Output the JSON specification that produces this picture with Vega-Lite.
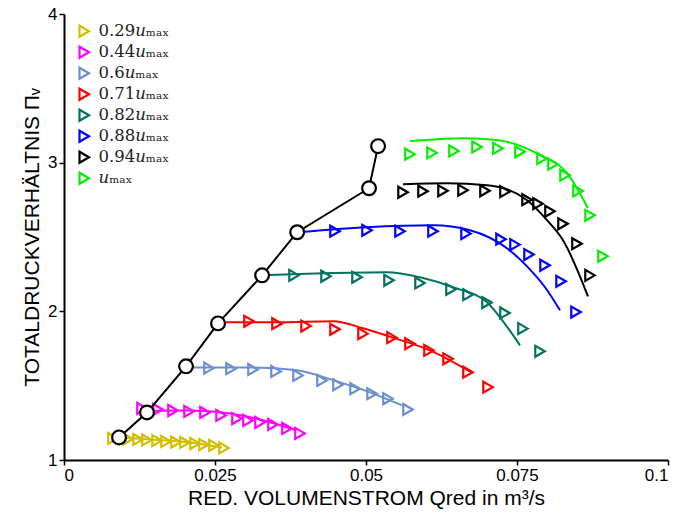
{
  "$schema": "https://vega.github.io/schema/vega-lite/v6.json",
  "width": 604,
  "height": 446,
  "autosize": {"type": "none"},
  "padding": {"left": 64, "top": 14, "right": 12, "bottom": 56},
  "background": "white",
  "config": {
    "view": {"stroke": null},
    "axis": {
      "grid": false,
      "domainColor": "black",
      "domainWidth": 2,
      "tickColor": "black",
      "tickWidth": 1.5,
      "tickSize": 5,
      "labelFont": "Liberation Sans",
      "labelFontSize": 17,
      "labelColor": "black",
      "titleFont": "Liberation Sans",
      "titleFontSize": 21,
      "titleFontWeight": "normal",
      "titleColor": "black"
    },
    "legend": {
      "orient": "none",
      "legendX": 12,
      "legendY": 9,
      "padding": 0,
      "labelFont": "DejaVu Serif",
      "labelFontSize": 16.5,
      "labelColor": "#222",
      "labelOffset": 6,
      "rowPadding": 0,
      "symbolType": "triangle-right",
      "symbolSize": 120,
      "symbolStrokeWidth": 2.2,
      "symbolFillColor": "transparent"
    }
  },
  "datasets": {
    "pts": [
      {"s": "0.29𝑢ₘₐₓ", "q": 0.00811, "p": 1.145},
      {"s": "0.29𝑢ₘₐₓ", "q": 0.0106, "p": 1.141},
      {"s": "0.29𝑢ₘₐₓ", "q": 0.01225, "p": 1.138},
      {"s": "0.29𝑢ₘₐₓ", "q": 0.01374, "p": 1.135},
      {"s": "0.29𝑢ₘₐₓ", "q": 0.0154, "p": 1.131},
      {"s": "0.29𝑢ₘₐₓ", "q": 0.01689, "p": 1.125},
      {"s": "0.29𝑢ₘₐₓ", "q": 0.01854, "p": 1.121},
      {"s": "0.29𝑢ₘₐₓ", "q": 0.02003, "p": 1.118},
      {"s": "0.29𝑢ₘₐₓ", "q": 0.02169, "p": 1.111},
      {"s": "0.29𝑢ₘₐₓ", "q": 0.02318, "p": 1.104},
      {"s": "0.29𝑢ₘₐₓ", "q": 0.02483, "p": 1.098},
      {"s": "0.29𝑢ₘₐₓ", "q": 0.02649, "p": 1.081},
      {"s": "0.44𝑢ₘₐₓ", "q": 0.01291, "p": 1.347},
      {"s": "0.44𝑢ₘₐₓ", "q": 0.01556, "p": 1.34},
      {"s": "0.44𝑢ₘₐₓ", "q": 0.01805, "p": 1.333},
      {"s": "0.44𝑢ₘₐₓ", "q": 0.0207, "p": 1.327},
      {"s": "0.44𝑢ₘₐₓ", "q": 0.02334, "p": 1.32},
      {"s": "0.44𝑢ₘₐₓ", "q": 0.026, "p": 1.3},
      {"s": "0.44𝑢ₘₐₓ", "q": 0.02864, "p": 1.279},
      {"s": "0.44𝑢ₘₐₓ", "q": 0.03046, "p": 1.266},
      {"s": "0.44𝑢ₘₐₓ", "q": 0.03245, "p": 1.253},
      {"s": "0.44𝑢ₘₐₓ", "q": 0.0346, "p": 1.239},
      {"s": "0.44𝑢ₘₐₓ", "q": 0.03692, "p": 1.212},
      {"s": "0.44𝑢ₘₐₓ", "q": 0.03907, "p": 1.179},
      {"s": "0.6𝑢ₘₐₓ", "q": 0.024, "p": 1.618},
      {"s": "0.6𝑢ₘₐₓ", "q": 0.02765, "p": 1.614},
      {"s": "0.6𝑢ₘₐₓ", "q": 0.03129, "p": 1.609},
      {"s": "0.6𝑢ₘₐₓ", "q": 0.0351, "p": 1.596},
      {"s": "0.6𝑢ₘₐₓ", "q": 0.03874, "p": 1.569},
      {"s": "0.6𝑢ₘₐₓ", "q": 0.04272, "p": 1.535},
      {"s": "0.6𝑢ₘₐₓ", "q": 0.04536, "p": 1.506},
      {"s": "0.6𝑢ₘₐₓ", "q": 0.04818, "p": 1.48},
      {"s": "0.6𝑢ₘₐₓ", "q": 0.051, "p": 1.446},
      {"s": "0.6𝑢ₘₐₓ", "q": 0.05364, "p": 1.412},
      {"s": "0.6𝑢ₘₐₓ", "q": 0.05695, "p": 1.34},
      {"s": "0.71𝑢ₘₐₓ", "q": 0.03063, "p": 1.933},
      {"s": "0.71𝑢ₘₐₓ", "q": 0.03526, "p": 1.917},
      {"s": "0.71𝑢ₘₐₓ", "q": 0.04007, "p": 1.901},
      {"s": "0.71𝑢ₘₐₓ", "q": 0.04487, "p": 1.879},
      {"s": "0.71𝑢ₘₐₓ", "q": 0.0495, "p": 1.85},
      {"s": "0.71𝑢ₘₐₓ", "q": 0.0543, "p": 1.823},
      {"s": "0.71𝑢ₘₐₓ", "q": 0.05728, "p": 1.782},
      {"s": "0.71𝑢ₘₐₓ", "q": 0.06043, "p": 1.737},
      {"s": "0.71𝑢ₘₐₓ", "q": 0.06358, "p": 1.681},
      {"s": "0.71𝑢ₘₐₓ", "q": 0.06689, "p": 1.591},
      {"s": "0.71𝑢ₘₐₓ", "q": 0.0702, "p": 1.49},
      {"s": "0.82𝑢ₘₐₓ", "q": 0.03808, "p": 2.242},
      {"s": "0.82𝑢ₘₐₓ", "q": 0.04338, "p": 2.236},
      {"s": "0.82𝑢ₘₐₓ", "q": 0.04851, "p": 2.229},
      {"s": "0.82𝑢ₘₐₓ", "q": 0.05381, "p": 2.209},
      {"s": "0.82𝑢ₘₐₓ", "q": 0.05894, "p": 2.191},
      {"s": "0.82𝑢ₘₐₓ", "q": 0.06407, "p": 2.148},
      {"s": "0.82𝑢ₘₐₓ", "q": 0.06689, "p": 2.112},
      {"s": "0.82𝑢ₘₐₓ", "q": 0.07003, "p": 2.059},
      {"s": "0.82𝑢ₘₐₓ", "q": 0.07301, "p": 1.989},
      {"s": "0.82𝑢ₘₐₓ", "q": 0.07599, "p": 1.884},
      {"s": "0.82𝑢ₘₐₓ", "q": 0.07881, "p": 1.731},
      {"s": "0.88𝑢ₘₐₓ", "q": 0.04487, "p": 2.539},
      {"s": "0.88𝑢ₘₐₓ", "q": 0.05017, "p": 2.545},
      {"s": "0.88𝑢ₘₐₓ", "q": 0.05563, "p": 2.539},
      {"s": "0.88𝑢ₘₐₓ", "q": 0.06109, "p": 2.539},
      {"s": "0.88𝑢ₘₐₓ", "q": 0.06656, "p": 2.523},
      {"s": "0.88𝑢ₘₐₓ", "q": 0.07235, "p": 2.485},
      {"s": "0.88𝑢ₘₐₓ", "q": 0.07467, "p": 2.449},
      {"s": "0.88𝑢ₘₐₓ", "q": 0.07699, "p": 2.382},
      {"s": "0.88𝑢ₘₐₓ", "q": 0.07964, "p": 2.31},
      {"s": "0.88𝑢ₘₐₓ", "q": 0.08229, "p": 2.202},
      {"s": "0.88𝑢ₘₐₓ", "q": 0.08477, "p": 1.995},
      {"s": "0.94𝑢ₘₐₓ", "q": 0.05613, "p": 2.801},
      {"s": "0.94𝑢ₘₐₓ", "q": 0.05944, "p": 2.808},
      {"s": "0.94𝑢ₘₐₓ", "q": 0.06275, "p": 2.811},
      {"s": "0.94𝑢ₘₐₓ", "q": 0.06606, "p": 2.815},
      {"s": "0.94𝑢ₘₐₓ", "q": 0.0697, "p": 2.811},
      {"s": "0.94𝑢ₘₐₓ", "q": 0.07301, "p": 2.805},
      {"s": "0.94𝑢ₘₐₓ", "q": 0.07666, "p": 2.751},
      {"s": "0.94𝑢ₘₐₓ", "q": 0.07848, "p": 2.724},
      {"s": "0.94𝑢ₘₐₓ", "q": 0.08046, "p": 2.673},
      {"s": "0.94𝑢ₘₐₓ", "q": 0.08262, "p": 2.589},
      {"s": "0.94𝑢ₘₐₓ", "q": 0.08493, "p": 2.455},
      {"s": "0.94𝑢ₘₐₓ", "q": 0.08709, "p": 2.242},
      {"s": "𝑢ₘₐₓ", "q": 0.05728, "p": 3.057},
      {"s": "𝑢ₘₐₓ", "q": 0.06093, "p": 3.066},
      {"s": "𝑢ₘₐₓ", "q": 0.06457, "p": 3.079},
      {"s": "𝑢ₘₐₓ", "q": 0.06838, "p": 3.106},
      {"s": "𝑢ₘₐₓ", "q": 0.07185, "p": 3.096},
      {"s": "𝑢ₘₐₓ", "q": 0.0755, "p": 3.073},
      {"s": "𝑢ₘₐₓ", "q": 0.07914, "p": 3.028},
      {"s": "𝑢ₘₐₓ", "q": 0.08096, "p": 2.99},
      {"s": "𝑢ₘₐₓ", "q": 0.08295, "p": 2.916},
      {"s": "𝑢ₘₐₓ", "q": 0.0851, "p": 2.81},
      {"s": "𝑢ₘₐₓ", "q": 0.08709, "p": 2.646},
      {"s": "𝑢ₘₐₓ", "q": 0.08924, "p": 2.37}
    ],
    "fits": [
      {"s": "0.29𝑢ₘₐₓ", "i": 0, "q": 0.00911, "p": 1.152},
      {"s": "0.29𝑢ₘₐₓ", "i": 1, "q": 0.01424, "p": 1.138},
      {"s": "0.29𝑢ₘₐₓ", "i": 2, "q": 0.02086, "p": 1.118},
      {"s": "0.29𝑢ₘₐₓ", "i": 3, "q": 0.02616, "p": 1.084},
      {"s": "0.44𝑢ₘₐₓ", "i": 0, "q": 0.01374, "p": 1.33},
      {"s": "0.44𝑢ₘₐₓ", "i": 1, "q": 0.02086, "p": 1.333},
      {"s": "0.44𝑢ₘₐₓ", "i": 2, "q": 0.02748, "p": 1.313},
      {"s": "0.44𝑢ₘₐₓ", "i": 3, "q": 0.03245, "p": 1.273},
      {"s": "0.44𝑢ₘₐₓ", "i": 4, "q": 0.03841, "p": 1.199},
      {"s": "0.6𝑢ₘₐₓ", "i": 0, "q": 0.0202, "p": 1.623},
      {"s": "0.6𝑢ₘₐₓ", "i": 1, "q": 0.03129, "p": 1.623},
      {"s": "0.6𝑢ₘₐₓ", "i": 2, "q": 0.03858, "p": 1.603},
      {"s": "0.6𝑢ₘₐₓ", "i": 3, "q": 0.0452, "p": 1.529},
      {"s": "0.6𝑢ₘₐₓ", "i": 4, "q": 0.05066, "p": 1.455},
      {"s": "0.6𝑢ₘₐₓ", "i": 5, "q": 0.05596, "p": 1.367},
      {"s": "0.71𝑢ₘₐₓ", "i": 0, "q": 0.0255, "p": 1.926},
      {"s": "0.71𝑢ₘₐₓ", "i": 1, "q": 0.03526, "p": 1.926},
      {"s": "0.71𝑢ₘₐₓ", "i": 2, "q": 0.04454, "p": 1.933},
      {"s": "0.71𝑢ₘₐₓ", "i": 3, "q": 0.0495, "p": 1.886},
      {"s": "0.71𝑢ₘₐₓ", "i": 4, "q": 0.0543, "p": 1.825},
      {"s": "0.71𝑢ₘₐₓ", "i": 5, "q": 0.0606, "p": 1.737},
      {"s": "0.71𝑢ₘₐₓ", "i": 6, "q": 0.06772, "p": 1.582},
      {"s": "0.82𝑢ₘₐₓ", "i": 0, "q": 0.03278, "p": 2.242},
      {"s": "0.82𝑢ₘₐₓ", "i": 1, "q": 0.04288, "p": 2.256},
      {"s": "0.82𝑢ₘₐₓ", "i": 2, "q": 0.05348, "p": 2.263},
      {"s": "0.82𝑢ₘₐₓ", "i": 3, "q": 0.05894, "p": 2.229},
      {"s": "0.82𝑢ₘₐₓ", "i": 4, "q": 0.0644, "p": 2.162},
      {"s": "0.82𝑢ₘₐₓ", "i": 5, "q": 0.07003, "p": 2.061},
      {"s": "0.82𝑢ₘₐₓ", "i": 6, "q": 0.07268, "p": 1.933},
      {"s": "0.82𝑢ₘₐₓ", "i": 7, "q": 0.0755, "p": 1.771},
      {"s": "0.88𝑢ₘₐₓ", "i": 0, "q": 0.0386, "p": 2.532},
      {"s": "0.88𝑢ₘₐₓ", "i": 1, "q": 0.05017, "p": 2.566},
      {"s": "0.88𝑢ₘₐₓ", "i": 2, "q": 0.06109, "p": 2.579},
      {"s": "0.88𝑢ₘₐₓ", "i": 3, "q": 0.06722, "p": 2.545},
      {"s": "0.88𝑢ₘₐₓ", "i": 4, "q": 0.07334, "p": 2.424},
      {"s": "0.88𝑢ₘₐₓ", "i": 5, "q": 0.07682, "p": 2.296},
      {"s": "0.88𝑢ₘₐₓ", "i": 6, "q": 0.07964, "p": 2.162},
      {"s": "0.88𝑢ₘₐₓ", "i": 7, "q": 0.08212, "p": 2.007},
      {"s": "0.94𝑢ₘₐₓ", "i": 0, "q": 0.05613, "p": 2.855},
      {"s": "0.94𝑢ₘₐₓ", "i": 1, "q": 0.06341, "p": 2.862},
      {"s": "0.94𝑢ₘₐₓ", "i": 2, "q": 0.07003, "p": 2.848},
      {"s": "0.94𝑢ₘₐₓ", "i": 3, "q": 0.07334, "p": 2.822},
      {"s": "0.94𝑢ₘₐₓ", "i": 4, "q": 0.07666, "p": 2.747},
      {"s": "0.94𝑢ₘₐₓ", "i": 5, "q": 0.07997, "p": 2.613},
      {"s": "0.94𝑢ₘₐₓ", "i": 6, "q": 0.08262, "p": 2.478},
      {"s": "0.94𝑢ₘₐₓ", "i": 7, "q": 0.08675, "p": 2.101},
      {"s": "𝑢ₘₐₓ", "i": 0, "q": 0.05728, "p": 3.145},
      {"s": "𝑢ₘₐₓ", "i": 1, "q": 0.06606, "p": 3.165},
      {"s": "𝑢ₘₐₓ", "i": 2, "q": 0.07169, "p": 3.152},
      {"s": "𝑢ₘₐₓ", "i": 3, "q": 0.07881, "p": 3.051},
      {"s": "𝑢ₘₐₓ", "i": 4, "q": 0.08328, "p": 2.93},
      {"s": "𝑢ₘₐₓ", "i": 5, "q": 0.08675, "p": 2.694}
    ],
    "surge": [
      {"i": 0, "q": 0.00911, "p": 1.152},
      {"i": 1, "q": 0.01374, "p": 1.32},
      {"i": 2, "q": 0.0202, "p": 1.63},
      {"i": 3, "q": 0.0255, "p": 1.919},
      {"i": 4, "q": 0.0328, "p": 2.242},
      {"i": 5, "q": 0.0386, "p": 2.532},
      {"i": 6, "q": 0.0505, "p": 2.828},
      {"i": 7, "q": 0.052, "p": 3.111}
    ]
  },
  "encoding": {
    "x": {
      "field": "q",
      "type": "quantitative",
      "scale": {"domain": [0, 0.1], "nice": false, "zero": false},
      "axis": {"values": [0, 0.025, 0.05, 0.075, 0.1], "labelExpr": "datum.value == 0 ? '0' : format(datum.value, '~g')", "title": "RED. VOLUMENSTROM Qred in m³/s", "titlePadding": 4}
    },
    "y": {
      "field": "p",
      "type": "quantitative",
      "scale": {"domain": [1, 4], "nice": false, "zero": false},
      "axis": {"values": [1, 2, 3, 4], "title": "TOTALDRUCKVERHÄLTNIS Πᵥ", "titlePadding": 5}
    }
  },
  "layer": [
    {
      "data": {"name": "fits"},
      "mark": {"type": "line", "strokeWidth": 2, "interpolate": "monotone"},
      "encoding": {
        "order": {"field": "i"},
        "color": {
          "field": "s",
          "type": "nominal",
          "scale": {
            "domain": ["0.29𝑢ₘₐₓ", "0.44𝑢ₘₐₓ", "0.6𝑢ₘₐₓ", "0.71𝑢ₘₐₓ", "0.82𝑢ₘₐₓ", "0.88𝑢ₘₐₓ", "0.94𝑢ₘₐₓ", "𝑢ₘₐₓ"],
            "range": ["#d2be00", "#ff00ff", "#6a8fcf", "#ff0000", "#00735f", "#0000ff", "#000000", "#00ee00"]
          },
          "legend": null
        }
      }
    },
    {
      "data": {"name": "pts"},
      "mark": {"type": "point", "shape": "triangle-right", "filled": false, "size": 120, "strokeWidth": 2.2, "opacity": 1},
      "encoding": {
        "color": {"field": "s", "type": "nominal", "sort": null, "legend": {"title": null}}
      }
    },
    {
      "data": {"name": "surge"},
      "mark": {"type": "line", "color": "black", "strokeWidth": 2},
      "encoding": {"order": {"field": "i"}}
    },
    {
      "data": {"name": "surge"},
      "mark": {"type": "point", "shape": "circle", "filled": true, "fill": "white", "stroke": "black", "strokeWidth": 2.2, "size": 190, "opacity": 1},
      "encoding": {}
    }
  ],
  "resolve": {"legend": {"color": "independent"}}
}
